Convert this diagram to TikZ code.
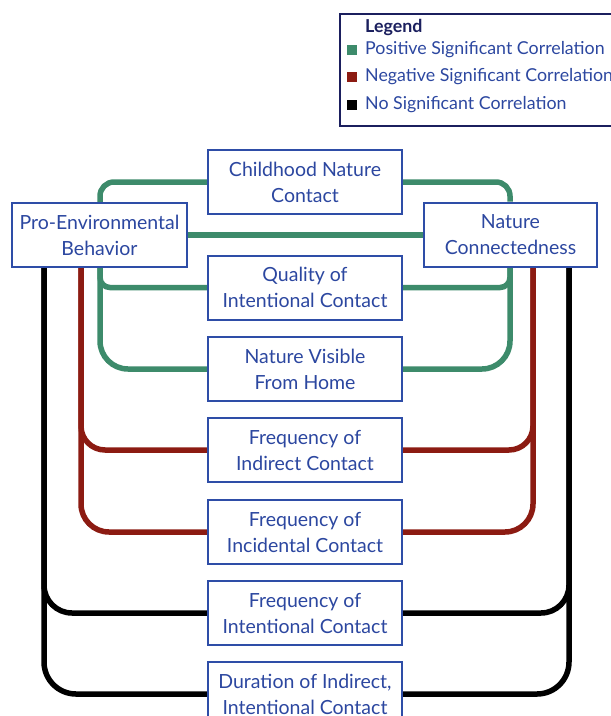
\documentclass[tikz,border=0pt]{standalone}
\usepackage{fontspec}
\setmainfont{Lato}
\usetikzlibrary{backgrounds}
\definecolor{pgreen}{HTML}{3D8B6B}
\definecolor{nred}{HTML}{8C1B12}
\definecolor{boxblue}{HTML}{2E4DA7}
\definecolor{txtblue}{HTML}{2C47A0}
\definecolor{navy}{HTML}{1B1F5E}
\tikzset{
 vbox/.style={draw=boxblue, line width=2pt, fill=white, text=txtblue, align=center,
   font=\fontsize{19.5}{26}\selectfont, minimum width=194pt, minimum height=64pt, inner sep=0pt},
 posline/.style={draw=pgreen, line width=5.5pt},
 negline/.style={draw=nred, line width=5.5pt},
 nsline/.style={draw=black, line width=5.5pt},
 legtext/.style={anchor=west, inner sep=0pt, text=txtblue, font=\fontsize{17.8}{20}\selectfont},
 legsq/.style={minimum size=10pt, inner sep=0pt},
}
\begin{document}
\begin{tikzpicture}[x=1pt,y=-1pt]
\useasboundingbox (0,0) rectangle (611,716);
% main nodes
\node[vbox, minimum width=175pt] (pe) at (99.5,235) {Pro-Environmental\\Behavior};
\node[vbox, minimum width=173pt] (nc) at (510.5,234.5) {Nature\\Connectedness};
\node[vbox] (cnc) at (305,182) {Childhood Nature\\Contact};
\node[vbox] (qic) at (305,287.5) {Quality of\\Intentional Contact};
\node[vbox] (nvh) at (305,369) {Nature Visible\\From Home};
\node[vbox] (fic) at (305,450) {Frequency of\\Indirect Contact};
\node[vbox] (finc) at (305,532) {Frequency of\\Incidental Contact};
\node[vbox] (fint) at (305,613) {Frequency of\\Intentional Contact};
\node[vbox] (dur) at (305,694) {Duration of Indirect,\\Intentional Contact};
% rails
\coordinate (gl) at (100,0);
\coordinate (gr) at (510,0);
\coordinate (rl) at (81,0);
\coordinate (rr) at (533,0);
\coordinate (bl) at (44,0);
\coordinate (br) at (569,0);
\begin{pgfonlayer}{background}
\draw[posline, rounded corners=14pt] (pe.north -| gl) |- (cnc.west);
\draw[posline, rounded corners=14pt] (nc.north -| gr) |- (cnc.east);
\draw[posline] (pe.east) -- (pe.east -| nc.west);
\draw[posline, rounded corners=10pt] (pe.south -| gl) |- (qic.west);
\draw[posline, rounded corners=10pt] (nc.south -| gr) |- (qic.east);
\draw[posline, rounded corners=28pt] (pe.south -| gl) |- (nvh.west);
\draw[posline, rounded corners=28pt] (nc.south -| gr) |- (nvh.east);
\draw[negline, rounded corners=24pt] (pe.south -| rl) |- (fic.west);
\draw[negline, rounded corners=24pt] (nc.south -| rr) |- (fic.east);
\draw[negline, rounded corners=28pt] (pe.south -| rl) |- (finc.west);
\draw[negline, rounded corners=28pt] (nc.south -| rr) |- (finc.east);
\draw[nsline, rounded corners=28pt] (pe.south -| bl) |- (fint.west);
\draw[nsline, rounded corners=28pt] (nc.south -| br) |- (fint.east);
\draw[nsline, rounded corners=32pt] (pe.south -| bl) |- (dur.west);
\draw[nsline, rounded corners=32pt] (nc.south -| br) |- (dur.east);
\end{pgfonlayer}
% legend
\node[draw=navy, line width=1.5pt, minimum width=290pt, minimum height=112pt, inner sep=0pt, anchor=north west] (legend) at (339,13) {};
\node[legtext, text=navy, font=\fontsize{17.8}{20}\selectfont\bfseries] (lt) at (365,27) {Legend};
\node[legsq, fill=pgreen] (sq1) at (352,50) {};
\node[legtext] (l1) at (365,50) {Positive Significant Correlation};
\node[legsq, fill=nred] (sq2) at (352,77) {};
\node[legtext] (l2) at (365,77) {Negative Significant Correlation};
\node[legsq, fill=black] (sq3) at (352,105) {};
\node[legtext] (l3) at (365,105) {No Significant Correlation};
\end{tikzpicture}
\end{document}
